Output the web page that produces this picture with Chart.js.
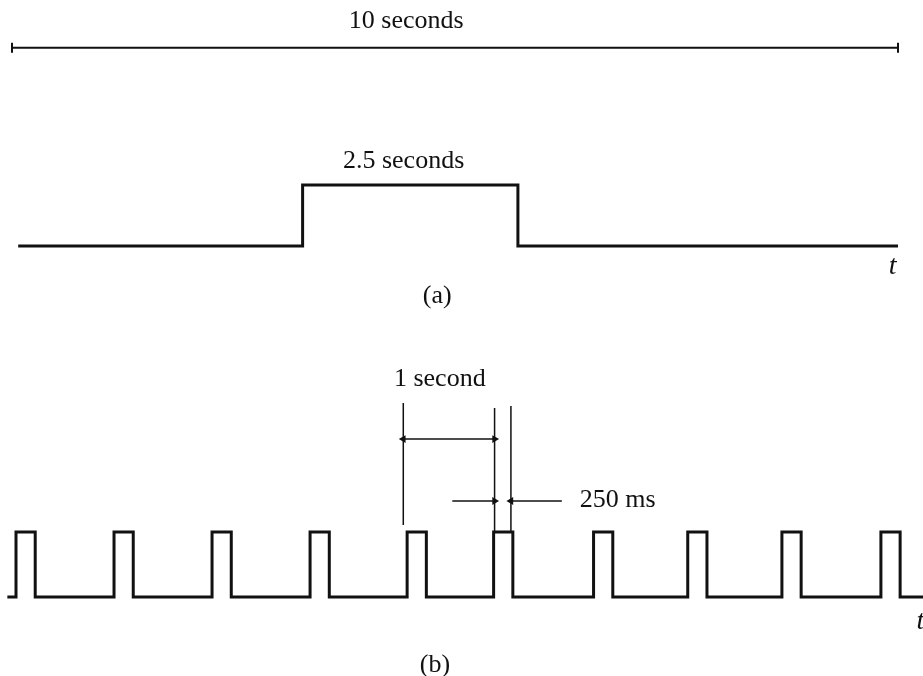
<!DOCTYPE html>
<html>
<head>
<meta charset="utf-8">
<script src="https://cdn.jsdelivr.net/npm/chart.js@4.4.1/dist/chart.umd.min.js"></script>
<style>
    body { margin: 0; background: #fff; }
    canvas { display: block; }
</style>
</head>
<body>
<canvas id="chartA" width="923" height="330"></canvas>
<canvas id="chartB" width="923" height="346"></canvas>
<script>
// (a) one long pulse inside a 10 second window (seconds)
var windowSpan = [0, 10];
var baseA = [0.07, 10.0];
var pulseA = [3.28, 5.71];

// (b) pulse train, start of each pulse (seconds) and pulse width
var pulseStarts = [0, 1.02, 2.04, 3.06, 4.07, 4.97, 6.01, 6.99, 7.97, 9.0];
var pulseWidth = 0.2;
var baseB = [-0.09, 9.44];

// dimension marks in (b): period and width markers (seconds)
var periodMarks = [4.03, 4.98];
var widthMarks = [4.98, 5.15];
var leaderArrows = [4.54, 5.68];

var ink = '#111111';

function xyLine(xs, y) {
    return xs.map(function (x) { return {x: x, y: y}; });
}

function buildPulseA() {
    return [
        {x: baseA[0], y: 0}, {x: pulseA[0], y: 0}, {x: pulseA[0], y: 1},
        {x: pulseA[1], y: 1}, {x: pulseA[1], y: 0}, {x: baseA[1], y: 0}
    ];
}

function buildPulseB() {
    var pts = [{x: baseB[0], y: 0}];
    pulseStarts.forEach(function (s) {
        pts.push({x: s, y: 0}, {x: s, y: 1}, {x: s + pulseWidth, y: 1}, {x: s + pulseWidth, y: 0});
    });
    pts.push({x: baseB[1], y: 0});
    return pts;
}

function seg(data, width, extra) {
    var d = {
        data: data,
        showLine: true,
        borderColor: ink,
        backgroundColor: ink,
        borderWidth: width,
        pointRadius: 0,
        fill: false,
        tension: 0
    };
    for (var k in extra) d[k] = extra[k];
    return d;
}

var textPlugin = {
    id: 'texts',
    afterDraw: function (chart) {
        var items = chart.options.plugins.texts.items;
        var c = chart.ctx;
        c.save();
        c.fillStyle = ink;
        c.textBaseline = 'middle';
        items.forEach(function (t) {
            c.font = t.font;
            c.textAlign = t.align || 'center';
            c.fillText(t.text, chart.scales.x.getPixelForValue(t.x), chart.scales.y.getPixelForValue(t.y));
        });
        c.restore();
    }
};

function baseOptions(xMin, xMax, yMin, yMax, texts) {
    return {
        responsive: false,
        animation: false,
        layout: {padding: 0, autoPadding: false},
        scales: {
            x: {type: 'linear', display: false, min: xMin, max: xMax},
            y: {type: 'linear', display: false, min: yMin, max: yMax}
        },
        plugins: {
            legend: {display: false},
            tooltip: {enabled: false},
            texts: {items: texts}
        }
    };
}

var serif = '26px "Liberation Serif", serif';
var serifItalic = 'italic 28px "Liberation Serif", serif';

// ---------- chart (a) ----------
var rulerLevel = 3.25;
var dataA = {
    datasets: [
        seg(xyLine(windowSpan, rulerLevel), 2, {
            pointRadius: 5, pointStyle: 'line', pointRotation: 90, pointBorderWidth: 2
        }),
        seg(buildPulseA(), 3, {})
    ]
};
var textsA = [
    {text: '10 seconds', x: 4.45, y: 3.69, font: serif},
    {text: '2.5 seconds', x: 4.42, y: 1.39, font: serif},
    {text: 't', x: 9.94, y: -0.34, font: serifItalic},
    {text: '(a)', x: 4.80, y: -0.82, font: serif}
];
var ctxA = document.getElementById('chartA').getContext('2d');
new Chart(ctxA, {
    type: 'scatter',
    data: dataA,
    options: baseOptions(-0.1354, 10.282, -1.377, 4.033, textsA),
    plugins: [textPlugin]
});

// ---------- chart (b) ----------
var dataB = {
    datasets: [
        seg(buildPulseB(), 3, {}),
        // extension lines
        seg([{x: periodMarks[0], y: 2.985}, {x: periodMarks[0], y: 1.108}], 1.5, {}),
        seg([{x: periodMarks[1], y: 2.908}, {x: periodMarks[1], y: 1.0}], 1.5, {}),
        seg([{x: widthMarks[1], y: 2.94}, {x: widthMarks[1], y: 1.0}], 1.5, {}),
        // 1 second double arrow
        seg(xyLine(periodMarks, 2.43), 1.5, {
            pointRadius: 4.5, pointStyle: 'triangle', pointRotation: [-90, 90], pointBorderWidth: 0
        }),
        // 250 ms arrows pointing inwards
        seg([{x: leaderArrows[0], y: 1.477}, {x: widthMarks[0], y: 1.477}], 1.5, {
            pointRadius: [0, 4.5], pointStyle: 'triangle', pointRotation: 90, pointBorderWidth: 0
        }),
        seg([{x: leaderArrows[1], y: 1.477}, {x: widthMarks[1], y: 1.477}], 1.5, {
            pointRadius: [0, 4.5], pointStyle: 'triangle', pointRotation: -90, pointBorderWidth: 0
        })
    ]
};
var textsB = [
    {text: '1 second', x: 4.41, y: 3.354, font: serif},
    {text: '250 ms', x: 6.26, y: 1.49, font: serif},
    {text: 't', x: 9.37, y: -0.385, font: serifItalic, align: 'left'},
    {text: '(b)', x: 4.36, y: -1.046, font: serif}
];
var ctxB = document.getElementById('chartB').getContext('2d');
new Chart(ctxB, {
    type: 'scatter',
    data: dataB,
    options: baseOptions(-0.1665, 9.438, -1.215, 4.108, textsB),
    plugins: [textPlugin]
});
</script>
</body>
</html>
